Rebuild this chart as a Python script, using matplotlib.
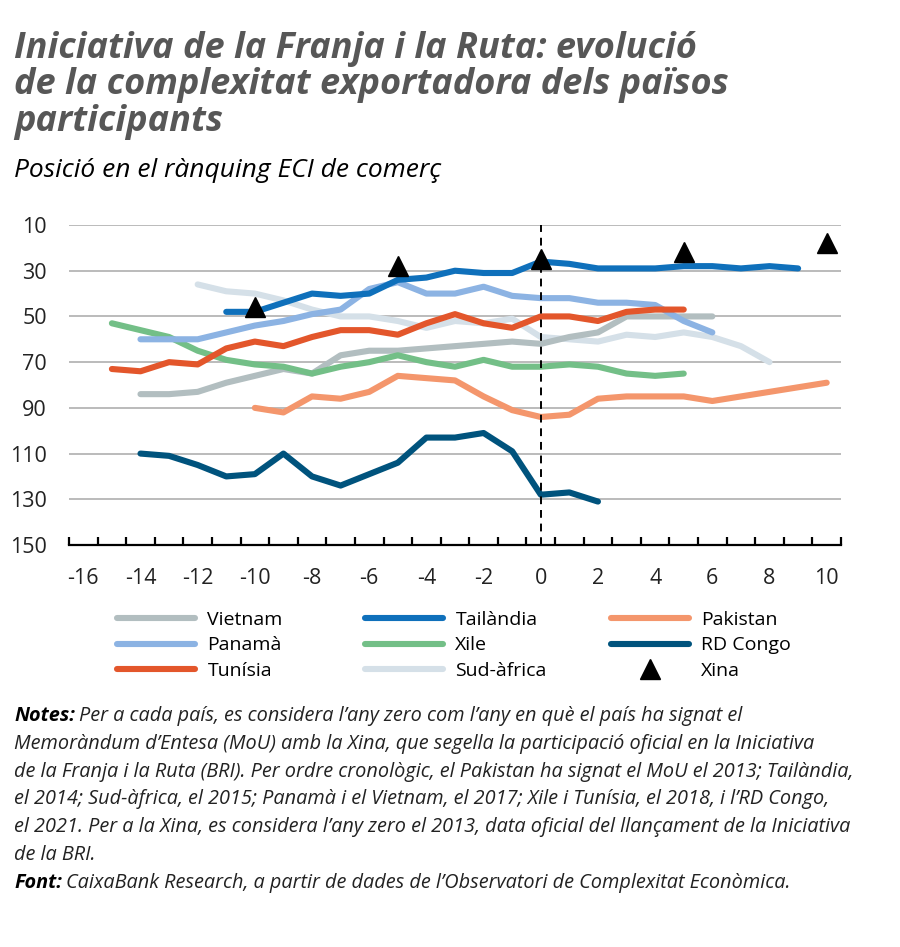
import numpy as np
import matplotlib.pyplot as plt
from matplotlib.lines import Line2D

plt.rcParams['font.family'] = ['Open Sans', 'DejaVu Sans']
plt.rcParams['axes.unicode_minus'] = False

# anys relatius a la signatura del MoU
vietnam_x = list(range(-14, 7))
vietnam = [84, 84, 83, 79, 76, 73, 75, 67, 65, 65, 64, 63, 62, 61, 62, 59, 57, 50, 50, 50, 50]

tailandia_x = list(range(-11, 10))
tailandia = [48, 48, 44, 40, 41, 40, 34, 33, 30, 31, 31, 26, 27, 29, 29, 29, 28, 28, 29, 28, 29]

pakistan_x = list(range(-10, 11))
pakistan = [90, 92, 85, 86, 83, 76, 77, 78, 85, 91, 94, 93, 86, 85, 85, 85, 87, 85, 83, 81, 79]

panama_x = list(range(-14, 7))
panama = [60, 60, 60, 57, 54, 52, 49, 47, 38, 35, 40, 40, 37, 41, 42, 42, 44, 44, 45, 52, 57]

xile_x = list(range(-15, 6))
xile = [53, 56, 59, 65, 69, 71, 72, 75, 72, 70, 67, 70, 72, 69, 72, 72, 71, 72, 75, 76, 75]

congo_x = list(range(-14, 3))
congo = [110, 111, 115, 120, 119, 110, 120, 124, 119, 114, 103, 103, 101, 109, 128, 127, 131]

tunisia_x = list(range(-15, 6))
tunisia = [73, 74, 70, 71, 64, 61, 63, 59, 56, 56, 58, 53, 49, 53, 55, 50, 50, 52, 48, 47, 47]

sudafrica_x = list(range(-12, 9))
sudafrica = [36, 39, 40, 43, 47, 50, 50, 52, 55, 52, 53, 51, 59, 60, 61, 58, 59, 57, 59, 63, 70]

xina_x = [-10, -5, 0, 5, 10]
xina = [46, 28, 25, 22, 18]

series = [
    ('Vietnam', vietnam_x, vietnam, '#b2bec0'),
    ('Panamà', panama_x, panama, '#8cb3e3'),
    ('Tunísia', tunisia_x, tunisia, '#e3562b'),
    ('Tailàndia', tailandia_x, tailandia, '#0f70bb'),
    ('Xile', xile_x, xile, '#73bf87'),
    ('Sud-àfrica', sudafrica_x, sudafrica, '#d5e0e8'),
    ('Pakistan', pakistan_x, pakistan, '#f4966c'),
    ('RD Congo', congo_x, congo, '#00537d'),
]
draw_order = ['Sud-àfrica', 'Vietnam', 'Xile', 'Pakistan', 'Panamà', 'Tunísia', 'RD Congo', 'Tailàndia']

W, H = 900, 947
fig = plt.figure(figsize=(W / 100, H / 100), dpi=100)
ax = fig.add_axes([69 / W, 1 - 545 / H, (841 - 69) / W, (545 - 225) / H])

lookup = {s[0]: s for s in series}
for name in draw_order:
    _, xs, ys, c = lookup[name]
    ax.plot(xs, ys, color=c, lw=4.4, solid_capstyle='round', solid_joinstyle='round', zorder=3)
ax.plot(xina_x, xina, ls='none', marker='^', ms=14, color='black', zorder=5)

ax.axvline(0, color='black', lw=1.4, ls=(0, (4, 3)), zorder=4)

ax.set_xlim(-16.5, 10.5)
ax.set_ylim(150, 10)
ax.set_yticks(range(10, 151, 20))
ax.set_xticks(range(-16, 11, 2))
ax.set_xticks(np.arange(-16.5, 10.6, 1), minor=True)
ax.grid(axis='y', color='#a8a8a8', lw=1.1, zorder=1)
for s in ['left', 'right', 'top']:
    ax.spines[s].set_visible(False)
ax.spines['bottom'].set_linewidth(1.6)
ax.spines['bottom'].set_zorder(6)
ax.tick_params(axis='y', length=0, pad=16, labelsize=15.5, labelcolor='#222222')
ax.tick_params(axis='x', which='major', length=0, pad=16.5, labelsize=15.5, labelcolor='#222222')
ax.tick_params(axis='x', which='minor', length=6, width=1.6, direction='in')

# llegenda en tres columnes
cols = [117, 365, 611]
for ci, x0 in enumerate(cols):
    handles = []
    for name, _, _, c in series[ci * 3:ci * 3 + 3]:
        handles.append(Line2D([], [], color=c, lw=4.4, solid_capstyle='round', label=name))
    if ci == 2:
        handles.append(Line2D([], [], ls='none', marker='^', ms=14, color='black', label='Xina'))
    leg = fig.legend(handles=handles, loc='upper left', bbox_to_anchor=(x0 / W, 1 - 611 / H),
                     frameon=False, fontsize=14, handlelength=4.0, handletextpad=0.65,
                     labelspacing=0.38, borderaxespad=0, borderpad=0)

# títols
title = ['Iniciativa de la Franja i la Ruta: evolució',
         'de la complexitat exportadora dels països',
         'participants']
for i, line in enumerate(title):
    fig.text(14 / W, 1 - (58 + 36.3 * i) / H, line, fontsize=26, fontweight='bold',
             fontstyle='italic', color='#575757', va='baseline', ha='left')
fig.text(14 / W, 1 - 177 / H, 'Posició en el rànquing ECI de comerç', fontsize=19,
         fontstyle='italic', color='black', va='baseline', ha='left')

notes = ['Per a cada país, es considera l\u2019any zero com l\u2019any en què el país ha signat el',
         'Memoràndum d\u2019Entesa (MoU) amb la Xina, que segella la participació oficial en la Iniciativa',
         'de la Franja i la Ruta (BRI). Per ordre cronològic, el Pakistan ha signat el MoU el 2013; Tailàndia,',
         'el 2014; Sud-àfrica, el 2015; Panamà i el Vietnam, el 2017; Xile i Tunísia, el 2018, i l\u2019RD Congo,',
         'el 2021. Per a la Xina, es considera l\u2019any zero el 2013, data oficial del llançament de la Iniciativa',
         'de la BRI.']
nfs = 14.3
lh = 27.8
t = fig.text(14 / W, 1 - 721 / H, 'Notes:', fontsize=nfs, fontweight='bold', fontstyle='italic',
             va='baseline', ha='left')
fig.canvas.draw()
bb = t.get_window_extent()
fig.text(bb.x1 / W + 4 / W, 1 - 721 / H, notes[0], fontsize=nfs, fontstyle='italic',
         va='baseline', ha='left', color='#222222')
for i, line in enumerate(notes[1:], start=1):
    fig.text(14 / W, 1 - (721 + lh * i) / H, line, fontsize=nfs, fontstyle='italic',
             va='baseline', ha='left', color='#222222')
t = fig.text(14 / W, 1 - (721 + lh * 6) / H, 'Font:', fontsize=nfs, fontweight='bold',
             fontstyle='italic', va='baseline', ha='left')
fig.canvas.draw()
bb = t.get_window_extent()
fig.text(bb.x1 / W + 4 / W, 1 - (721 + lh * 6) / H,
         'CaixaBank Research, a partir de dades de l\u2019Observatori de Complexitat Econòmica.',
         fontsize=nfs, fontstyle='italic', va='baseline', ha='left', color='#222222')

fig.savefig('out.png', dpi=100)
